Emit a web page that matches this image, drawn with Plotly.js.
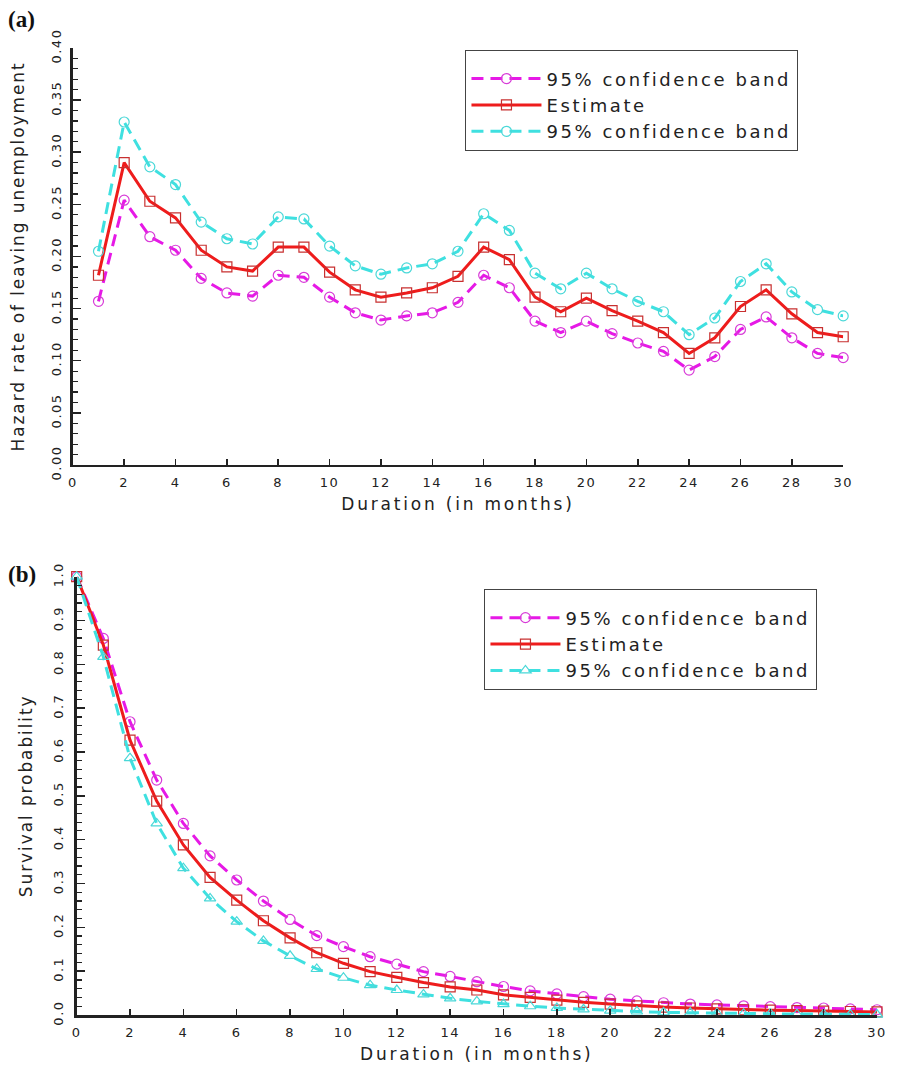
<!DOCTYPE html>
<html><head><meta charset="utf-8">
<script src="https://cdn.plot.ly/plotly-3.0.1.min.js"></script>
<style>
html,body{margin:0;padding:0;background:#fff}
#chart{width:898px;height:1074px}
text.legendtext, .legend text, .legend2 text {letter-spacing:2.6px !important}
.xtitle,.x2title{letter-spacing:2.8px}
.ytitle,.y2title{letter-spacing:1.9px}
.xtick text,.x2tick text,.ytick text,.y2tick text{letter-spacing:1.5px}
</style></head><body><div id="chart"></div>
<script>
// Panel (a): hazard rate of leaving unemployment
const monthsA = [1,2,3,4,5,6,7,8,9,10,11,12,13,14,15,16,17,18,19,20,21,22,23,24,25,26,27,28,29,30];
const hazardLower = [0.157,0.254,0.219,0.206,0.179,0.165,0.162,0.182,0.180,0.161,0.146,0.139,0.143,0.146,0.156,0.182,0.170,0.138,0.127,0.138,0.126,0.117,0.109,0.091,0.104,0.130,0.142,0.122,0.107,0.103];
const hazardEstimate = [0.182,0.290,0.253,0.237,0.206,0.190,0.186,0.209,0.209,0.185,0.168,0.161,0.165,0.170,0.181,0.209,0.197,0.161,0.147,0.160,0.148,0.138,0.127,0.107,0.122,0.152,0.168,0.145,0.127,0.123];
const hazardUpper = [0.205,0.329,0.286,0.269,0.233,0.217,0.212,0.238,0.236,0.210,0.191,0.183,0.189,0.193,0.205,0.241,0.225,0.184,0.169,0.184,0.169,0.157,0.147,0.125,0.141,0.176,0.193,0.166,0.149,0.143];

// Panel (b): survival probability
const monthsB = [0,1,2,3,4,5,6,7,8,9,10,11,12,13,14,15,16,17,18,19,20,21,22,23,24,25,26,27,28,29,30];
const survUpper = [1.0,0.859,0.669,0.536,0.437,0.363,0.308,0.260,0.218,0.181,0.156,0.133,0.116,0.099,0.088,0.076,0.065,0.055,0.048,0.042,0.036,0.032,0.028,0.025,0.023,0.021,0.019,0.017,0.016,0.014,0.012];
const survEstimate = [1.0,0.844,0.627,0.488,0.388,0.314,0.262,0.215,0.176,0.142,0.118,0.099,0.086,0.074,0.064,0.057,0.046,0.040,0.034,0.029,0.025,0.021,0.018,0.016,0.014,0.012,0.011,0.010,0.009,0.008,0.007];
const survLower = [1.0,0.817,0.586,0.437,0.335,0.266,0.213,0.169,0.135,0.105,0.085,0.068,0.057,0.047,0.038,0.031,0.025,0.020,0.016,0.013,0.010,0.008,0.006,0.005,0.004,0.003,0.003,0.002,0.002,0.001,0.001];

const bandLabel = '95% confidence band';
const estLabel = 'Estimate';

const FONT = 'DejaVu Sans, sans-serif';
const MAG = '#e619e6', RED = '#ee1c1c', CYA = '#3fe0e0';
const DASH = '12px,7px';

function tr(x, y, name, color, dash, symbol, mcolor, xa, ya, leg) {
  return {
    x: x, y: y, name: name, type: 'scatter', mode: 'lines+markers',
    xaxis: xa, yaxis: ya, legend: leg, cliponaxis: false,
    line: {color: color, width: 3, dash: dash},
    marker: {symbol: symbol, size: 10, color: mcolor, line: {color: mcolor, width: 1.2}}
  };
}

const data = [
  tr(monthsA, hazardLower, bandLabel, MAG, DASH, 'circle-open', '#d83cd8', 'x', 'y', 'legend'),
  tr(monthsA, hazardEstimate, estLabel, RED, 'solid', 'square-open', '#c83030', 'x', 'y', 'legend'),
  tr(monthsA, hazardUpper, bandLabel, CYA, DASH, 'circle-open', '#4ad8d8', 'x', 'y', 'legend'),
  tr(monthsB, survUpper, bandLabel, MAG, DASH, 'circle-open', '#d83cd8', 'x2', 'y2', 'legend2'),
  tr(monthsB, survEstimate, estLabel, RED, 'solid', 'square-open', '#c83030', 'x2', 'y2', 'legend2'),
  tr(monthsB, survLower, bandLabel, CYA, DASH, 'triangle-up-open', '#4ad8d8', 'x2', 'y2', 'legend2')
];

const axBase = {
  showgrid: false, zeroline: false, showline: true, linecolor: '#222', linewidth: 2.5,
  ticks: 'inside', tickcolor: '#222', tickwidth: 1.5, mirror: false,
  tickfont: {family: FONT, size: 13, color: '#222'}, fixedrange: true
};
const titleFont = {family: FONT, size: 17, color: '#222'};
const legFont = {family: FONT, size: 18, color: '#222'};
const legTitle = {text: ' ', font: {family: FONT, size: 7}};

const layout = {
  width: 898, height: 1074,
  margin: {l: 72, r: 21.3, t: 48, b: 59},
  paper_bgcolor: '#fff', plot_bgcolor: '#fff',
  font: {family: FONT, color: '#222'},
  xaxis: Object.assign({}, axBase, {
    domain: [0.001, 0.958], range: [0, 30], tick0: 0, dtick: 2, ticklen: 6,
    anchor: 'y', ticklabelstandoff: 4,
    title: {text: 'Duration (in months)', font: titleFont, standoff: 9}
  }),
  yaxis: Object.assign({}, axBase, {
    domain: [0.5688, 1], range: [0, 0.4], tick0: 0, dtick: 0.05, tickformat: '.2f',
    tickangle: -90, ticklen: 8, anchor: 'x', ticklabelstandoff: 4,
    minor: {dtick: 0.01, ticks: 'inside', ticklen: 5, tickcolor: '#222', tickwidth: 1.2},
    title: {text: 'Hazard rate of leaving unemployment', font: titleFont, standoff: 20}
  }),
  xaxis2: Object.assign({}, axBase, {
    domain: [0.0058, 1], range: [0, 30], tick0: 0, dtick: 2, ticklen: 6,
    anchor: 'y2', ticklabelstandoff: 4,
    title: {text: 'Duration (in months)', font: titleFont, standoff: 9}
  }),
  yaxis2: Object.assign({}, axBase, {
    domain: [0, 0.4533], range: [0, 1], tick0: 0, dtick: 0.1, tickformat: '.1f',
    tickangle: -90, ticklen: 8, anchor: 'x2', ticklabelstandoff: 6,
    minor: {dtick: 0.02, ticks: 'inside', ticklen: 5, tickcolor: '#222', tickwidth: 1.2},
    title: {text: 'Survival probability', font: titleFont, standoff: 14}
  }),
  legend: {
    x: 0.4884, y: 0.998, xanchor: 'left', yanchor: 'top', bgcolor: '#fff', title: legTitle,
    bordercolor: '#444', borderwidth: 1.3, font: legFont, itemwidth: 70, traceorder: 'normal'
  },
  legend2: {
    x: 0.512, y: 0.4405, xanchor: 'left', yanchor: 'top', bgcolor: '#fff', title: legTitle,
    bordercolor: '#444', borderwidth: 1.3, font: legFont, itemwidth: 70, traceorder: 'normal'
  },
  annotations: [
    {text: '<b>(a)</b>', xref: 'paper', yref: 'paper', x: -0.082, y: 1.029, xanchor: 'left', yanchor: 'middle',
     showarrow: false, font: {family: 'Liberation Serif, serif', size: 23, color: '#111'}},
    {text: '<b>(b)</b>', xref: 'paper', yref: 'paper', x: -0.082, y: 0.456, xanchor: 'left', yanchor: 'middle',
     showarrow: false, font: {family: 'Liberation Serif, serif', size: 23, color: '#111'}}
  ],
  showlegend: true
};

Plotly.newPlot('chart', data, layout, {staticPlot: true, displayModeBar: false});
</script>
</body></html>
